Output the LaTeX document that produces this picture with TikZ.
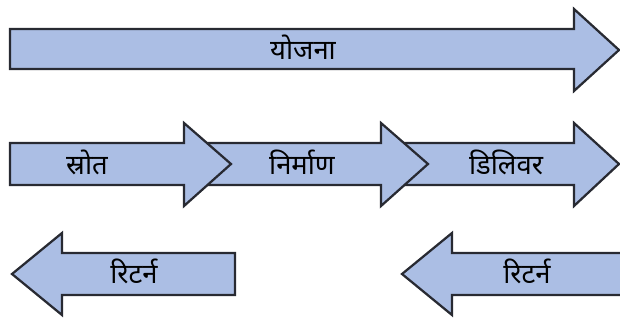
\documentclass[tikz,border=0pt]{standalone}
\usepackage{fontspec}
\newfontfamily\devfont[Script=Devanagari]{Noto Sans}
\definecolor{arrowfill}{RGB}{171,190,228}
\definecolor{arrowline}{RGB}{40,42,50}
\tikzset{
  blockarrow/.style={fill=arrowfill, draw=arrowline, line width=1.6pt, line join=miter},
  arrowtext/.style={font=\devfont\fontsize{19.5}{22}\selectfont, inner sep=1pt}
}
\begin{document}
\begin{tikzpicture}[x=0.025cm, y=-0.025cm]
    \useasboundingbox (0,0) rectangle (620,322);

    \draw[blockarrow] (10,29) -- (574,29) -- (574,9) -- (619,50) -- (574,91) -- (574,69) -- (10,69) -- cycle;
    \node[arrowtext] (plan) at (303,47) {योजना};

    \draw[blockarrow] (395,143) -- (574,143) -- (574,123) -- (619,164) -- (574,206) -- (574,185) -- (395,185) -- cycle;
    \draw[blockarrow] (200,143) -- (381,143) -- (381,123) -- (428,164) -- (381,206) -- (381,185) -- (200,185) -- cycle;
    \draw[blockarrow] (10,143) -- (184,143) -- (184,123) -- (231,164) -- (184,206) -- (184,185) -- (10,185) -- cycle;
    \node[arrowtext] (source) at (87,162) {स्रोत};
    \node[arrowtext] (make) at (302,162) {निर्माण};
    \node[arrowtext] (deliver) at (506,162) {डिलिवर};

    \draw[blockarrow] (235,253) -- (62,253) -- (62,233) -- (12,274) -- (62,315) -- (62,295) -- (235,295) -- cycle;
    \draw[blockarrow] (625,253) -- (452,253) -- (452,233) -- (402,274) -- (452,315) -- (452,295) -- (625,295) -- cycle;
    \node[arrowtext] (returnl) at (134,271) {रिटर्न};
    \node[arrowtext] (returnr) at (527,271) {रिटर्न};
\end{tikzpicture}
\end{document}
